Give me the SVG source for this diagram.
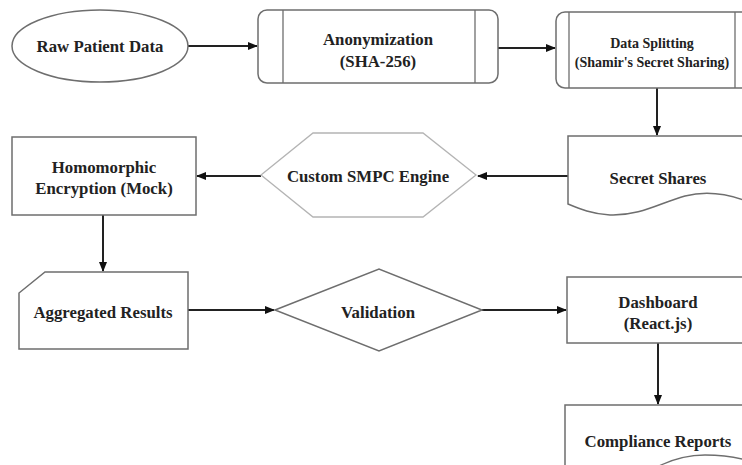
<svg xmlns="http://www.w3.org/2000/svg" width="742" height="465" viewBox="0 0 742 465">
  <style>
    .shape { fill: #ffffff; stroke: #6e6e6e; stroke-width: 1.5; }
    .light { fill: #ffffff; stroke: #b4b4b4; stroke-width: 1.3; }
    .inner { fill: none; stroke: #6e6e6e; stroke-width: 1.3; }
    .lbl { font-family: "Liberation Serif", "Times New Roman", serif; font-weight: bold; font-size: 16.8px; fill: #222222; text-anchor: middle; }
    .sm { font-size: 14px; }
    .conn { fill: none; stroke: #222222; stroke-width: 2; }
  </style>
  <defs>
    <marker id="arr" markerWidth="10" markerHeight="8" refX="9" refY="4" orient="auto" markerUnits="userSpaceOnUse">
      <path d="M0,0 L10,4 L0,8 Z" fill="#111111"/>
    </marker>
  </defs>
  <rect width="742" height="465" fill="#ffffff"/>

  <g id="connectors">
    <line class="conn" x1="188" y1="46" x2="257" y2="46" marker-end="url(#arr)"/>
    <line class="conn" x1="498" y1="48" x2="555" y2="48" marker-end="url(#arr)"/>
    <line class="conn" x1="657" y1="88" x2="657" y2="135" marker-end="url(#arr)"/>
    <line class="conn" x1="568" y1="176" x2="478" y2="176" marker-end="url(#arr)"/>
    <line class="conn" x1="261" y1="176" x2="197" y2="176" marker-end="url(#arr)"/>
    <line class="conn" x1="103" y1="215" x2="103" y2="271" marker-end="url(#arr)"/>
    <line class="conn" x1="188" y1="310" x2="274" y2="310" marker-end="url(#arr)"/>
    <line class="conn" x1="482" y1="310" x2="566" y2="310" marker-end="url(#arr)"/>
    <line class="conn" x1="658" y1="343" x2="658" y2="404" marker-end="url(#arr)"/>
  </g>

  <g id="raw-patient-data">
    <ellipse class="shape" cx="100" cy="46" rx="88" ry="36"/>
    <text class="lbl" x="100" y="52">Raw Patient Data</text>
  </g>

  <g id="anonymization">
    <rect class="shape" x="258" y="10" width="240" height="73" rx="9" ry="9"/>
    <line class="inner" x1="283" y1="10" x2="283" y2="83"/>
    <line class="inner" x1="475" y1="10" x2="475" y2="83"/>
    <text class="lbl" x="378" y="45">Anonymization</text>
    <text class="lbl" x="378" y="67">(SHA-256)</text>
  </g>

  <g id="data-splitting">
    <rect class="shape" x="556" y="12" width="200" height="76" rx="9" ry="9"/>
    <line class="inner" x1="569" y1="12" x2="569" y2="88"/>
    <line class="inner" x1="735" y1="12" x2="735" y2="88"/>
    <text class="lbl sm" x="652" y="48">Data Splitting</text>
    <text class="lbl sm" x="652" y="67">(Shamir's Secret Sharing)</text>
  </g>

  <g id="secret-shares">
    <path class="shape" d="M568,136 L746,136 L746,201 C 725,193 705,191 685,196 C 660,203 640,216 610,215 C 592,214 580,209 568,204 Z"/>
    <text class="lbl" x="658" y="184">Secret Shares</text>
  </g>

  <g id="custom-smpc-engine">
    <polygon class="light" points="261,175 313,133 423,133 476,175 423,217 313,217"/>
    <text class="lbl" x="368" y="182">Custom SMPC Engine</text>
  </g>

  <g id="homomorphic-encryption">
    <rect class="shape" x="12" y="137" width="184" height="78"/>
    <text class="lbl" x="104" y="173">Homomorphic</text>
    <text class="lbl" x="104" y="194">Encryption (Mock)</text>
  </g>

  <g id="aggregated-results">
    <path class="shape" d="M45,272 L188,272 L188,349 L19,349 L19,293 Z"/>
    <text class="lbl" x="103" y="318">Aggregated Results</text>
  </g>

  <g id="validation">
    <polygon class="shape" points="275,310 379,269 482,310 379,351"/>
    <text class="lbl" x="378" y="318">Validation</text>
  </g>

  <g id="dashboard">
    <rect class="shape" x="567" y="277" width="185" height="66"/>
    <text class="lbl" x="658" y="308">Dashboard</text>
    <text class="lbl" x="658" y="329">(React.js)</text>
  </g>

  <g id="compliance-reports">
    <rect class="shape" x="565" y="405" width="190" height="70"/>
    <path class="inner" d="M655,468 C 670,460 688,455 705,455 C 722,455 735,457 746,460"/>
    <text class="lbl" x="658" y="447">Compliance Reports</text>
  </g>
</svg>
